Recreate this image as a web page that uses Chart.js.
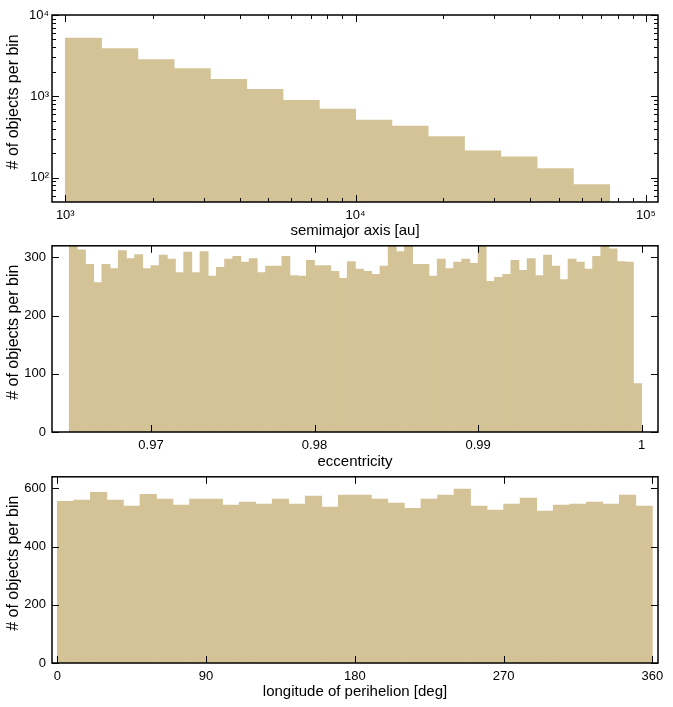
<!DOCTYPE html>
<html>
<head>
<meta charset="utf-8">
<script src="https://cdn.jsdelivr.net/npm/chart.js@4.4.0/dist/chart.umd.min.js"></script>
<style>
  html, body { margin: 0; padding: 0; background: #fff; }
  .panel { position: absolute; left: 0; width: 673px; }
</style>
</head>
<body>
<div class="panel" style="top:0px;height:240px"><canvas id="semimajor"></canvas></div>
<div class="panel" style="top:232px;height:239px"><canvas id="ecc"></canvas></div>
<div class="panel" style="top:463px;height:238px"><canvas id="perihelion"></canvas></div>
<script>
// histogram panels: semimajor axis, eccentricity, longitude of perihelion
const barColor = 'rgb(211, 195, 150)';
const yTitle = '   # of objects per bin';

// panel 1: semimajor axis, bins of 1/8 decade starting at 10^3 au
const aBinStartLog = 3;
const aBinStepLog = 0.125;
const aCounts = [5200, 3850, 2825, 2195, 1611, 1217, 893, 694, 509, 431, 319, 213, 180, 129, 82];
const aTicks = [1e3, 1e4, 1e5];
const aTickLabels = ['10³', '10⁴', '10⁵'];
const aMinorTicks = [2e3, 3e3, 4e3, 5e3, 6e3, 7e3, 8e3, 9e3, 2e4, 3e4, 4e4, 5e4, 6e4, 7e4, 8e4, 9e4];
const aYTicks = [1e2, 1e3, 1e4];
const aYTickLabels = ['10²', '10³', '10⁴'];
const aYMinorTicks = [60, 70, 80, 90, 200, 300, 400, 500, 600, 700, 800, 900, 2000, 3000, 4000, 5000, 6000, 7000, 8000, 9000];

// panel 2: eccentricity, bins of 0.0005 from 0.965
const eBinStart = 0.965;
const eBinStep = 0.0005;
const eCounts = [
  325, 313, 288, 257, 288, 281, 312, 298, 305, 281,
  286, 304, 297, 274, 309, 274, 310, 268, 283, 297,
  302, 292, 298, 274, 285, 285, 302, 269, 268, 295,
  286, 286, 276, 264, 293, 280, 276, 271, 285, 326,
  310, 324, 288, 288, 268, 297, 281, 292, 297, 290,
  327, 259, 266, 271, 295, 278, 298, 269, 304, 285,
  262, 297, 292, 280, 302, 323, 315, 293, 292, 83
];
const eTicks = [0.97, 0.98, 0.99, 1];
const eTickLabels = ['0.97', '0.98', '0.99', '1'];
const eYTicks = [0, 100, 200, 300];

// panel 3: longitude of perihelion, bins of 10 deg
const wBinStart = 0;
const wBinStep = 10;
const wCounts = [
  556, 560, 587, 560, 539, 580, 563, 543, 563, 563,
  543, 553, 546, 563, 546, 574, 536, 577, 577, 563,
  550, 532, 563, 577, 598, 539, 526, 546, 567, 522,
  543, 546, 553, 546, 577, 539
];
const wTicks = [0, 90, 180, 270, 360];
const wTickLabels = ['0', '90', '180', '270', '360'];
const wYTicks = [0, 200, 400, 600];

Chart.defaults.font.family = "'Liberation Sans', Arial, Helvetica, sans-serif";
Chart.defaults.color = '#000';

// black frame with inward ticks on all four sides (gnuplot style)
const framePlugin = {
  id: 'frame',
  afterDatasetsDraw(chart, args, opts) {
    const { ctx, chartArea: a, scales: { x, y } } = chart;
    const line = (x1, y1, x2, y2) => {
      ctx.beginPath(); ctx.moveTo(x1, y1); ctx.lineTo(x2, y2); ctx.stroke();
    };
    ctx.save();
    ctx.strokeStyle = '#000';
    ctx.lineWidth = 1;
    const xMarks = (vals, len) => vals.forEach(v => {
      const p = Math.round(x.getPixelForValue(v)) + 0.5;
      line(p, a.bottom, p, a.bottom - len);
      line(p, a.top, p, a.top + len);
    });
    const yMarks = (vals, len) => vals.forEach(v => {
      const p = Math.round(y.getPixelForValue(v)) + 0.5;
      line(a.left, p, a.left + len, p);
      line(a.right, p, a.right - len, p);
    });
    xMarks(opts.xMajor || [], 7);
    xMarks(opts.xMinor || [], 4);
    yMarks(opts.yMajor || [], 7);
    yMarks(opts.yMinor || [], 4);
    ctx.lineWidth = 1.5;
    ctx.strokeRect(a.left, a.top, a.right - a.left, a.bottom - a.top);
    ctx.restore();
  }
};

function histogram(id, cfg) {
  return new Chart(document.getElementById(id), {
    type: 'bar',
    data: {
      datasets: [{
        data: cfg.points,
        backgroundColor: barColor,
        borderWidth: 0,
        barPercentage: 1,
        categoryPercentage: 1
      }]
    },
    options: {
      responsive: true,
      maintainAspectRatio: false,
      animation: false,
      events: [],
      layout: { padding: { top: cfg.padTop, right: 15, left: 0, bottom: 0 } },
      plugins: {
        legend: { display: false },
        tooltip: { enabled: false },
        frame: { xMajor: cfg.xTicks, xMinor: cfg.xMinor, yMajor: cfg.yTicks, yMinor: cfg.yMinor }
      },
      scales: {
        x: {
          type: cfg.xType,
          min: cfg.xMin,
          max: cfg.xMax,
          offset: false,
          grid: { display: false, drawTicks: false },
          border: { display: false },
          afterFit: s => { s.height = cfg.xAxisHeight; },
          afterBuildTicks: s => { s.ticks = cfg.xTicks.map(v => ({ value: v })); },
          ticks: {
            padding: 6, maxRotation: 0, autoSkip: false,
            font: { size: 13 },
            callback: (v, i) => cfg.xTickLabels[i]
          },
          title: { display: true, text: cfg.xTitle, font: { size: 15 }, padding: 0 }
        },
        y: {
          type: cfg.yType,
          min: cfg.yMin,
          max: cfg.yMax,
          grid: { display: false, drawTicks: false },
          border: { display: false },
          afterFit: s => { s.width = 52; },
          afterBuildTicks: s => { s.ticks = cfg.yTicks.map(v => ({ value: v })); },
          ticks: {
            padding: cfg.yTickPad, autoSkip: false,
            font: { size: 13 },
            callback: (v, i) => cfg.yTickLabels[i]
          },
          title: { display: true, text: yTitle, font: { size: 16 }, padding: { top: 4, bottom: 0 } }
        }
      }
    },
    plugins: [framePlugin]
  });
}

histogram('semimajor', {
  points: aCounts.map((c, i) => ({ x: Math.pow(10, aBinStartLog + aBinStepLog * (i + 0.5)), y: c })),
  xType: 'logarithmic', xMin: 900, xMax: 110000,
  yType: 'logarithmic', yMin: 50, yMax: 10000,
  xTicks: aTicks, xTickLabels: aTickLabels, xMinor: aMinorTicks,
  yTicks: aYTicks, yTickLabels: aYTickLabels, yMinor: aYMinorTicks,
  xTitle: 'semimajor axis [au]',
  padTop: 15, xAxisHeight: 38, yTickPad: 3
});

histogram('ecc', {
  points: eCounts.map((c, i) => ({ x: eBinStart + eBinStep * (i + 0.5), y: c })),
  xType: 'linear', xMin: 0.96395, xMax: 1.001,
  yType: 'linear', yMin: 0, yMax: 320,
  xTicks: eTicks, xTickLabels: eTickLabels, xMinor: [],
  yTicks: eYTicks, yTickLabels: eYTicks.map(String), yMinor: [],
  xTitle: 'eccentricity',
  padTop: 12, xAxisHeight: 39, yTickPad: 6
});

histogram('perihelion', {
  points: wCounts.map((c, i) => ({ x: wBinStart + wBinStep * (i + 0.5), y: c })),
  xType: 'linear', xMin: -3.2, xMax: 363.4,
  yType: 'linear', yMin: 0, yMax: 640,
  xTicks: wTicks, xTickLabels: wTickLabels, xMinor: [],
  yTicks: wYTicks, yTickLabels: wYTicks.map(String), yMinor: [],
  xTitle: 'longitude of perihelion [deg]',
  padTop: 12, xAxisHeight: 38, yTickPad: 6
});
</script>
</body>
</html>
